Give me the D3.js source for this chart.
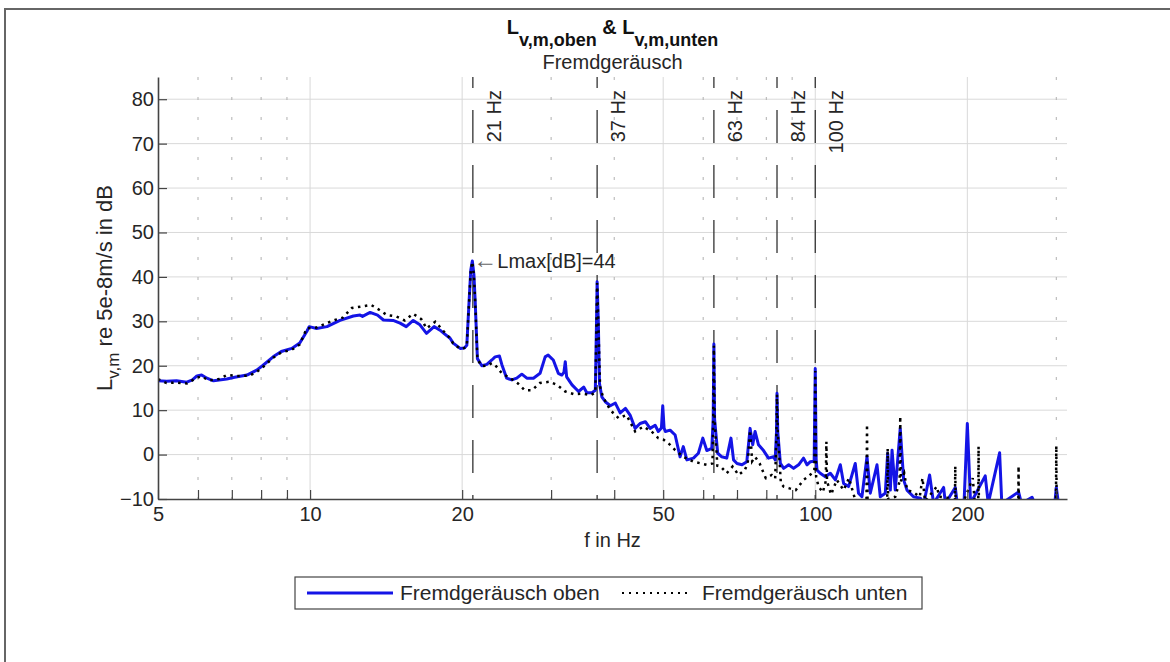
<!DOCTYPE html>
<html>
<head>
<meta charset="utf-8">
<script src="https://cdn.jsdelivr.net/npm/d3@7"></script>
<style>
  html, body { margin: 0; padding: 0; background: #fff; }
  svg { display: block; font-family: "Liberation Sans", Arial, Helvetica, sans-serif; }
</style>
</head>
<body>
<svg id="chart" width="1170" height="662"></svg>
<script>
// ---- data -------------------------------------------------------------
// Narrowband velocity level spectra (frequency in Hz, level in dB re 5e-8 m/s)
const oben = [
  [5.0,16.6],[5.2,16.5],[5.44,16.6],[5.7,16.3],[5.85,16.8],[5.97,17.7],[6.1,17.9],[6.25,17.2],
  [6.44,16.6],[6.84,17.0],[7.09,17.4],[7.5,17.9],[7.84,19.0],[8.05,20.0],[8.45,22.0],[8.77,23.2],
  [9.2,23.9],[9.54,25.1],[9.85,27.7],[9.96,28.8],[10.3,28.4],[10.8,28.8],[11.46,30.2],[12.18,31.2],
  [12.56,31.4],[12.7,31.1],[13.15,32.0],[13.6,31.4],[13.97,30.3],[14.6,30.2],[15.07,29.6],[15.5,28.8],
  [16.0,30.2],[16.5,29.2],[17.0,27.3],[17.6,28.8],[18.08,28.0],[18.4,27.3],[18.93,26.2],[19.2,25.1],
  [19.82,23.9],[20.2,24.0],[20.43,24.6],[20.6,32.6],[20.8,41.5],[20.95,43.6],[21.1,40.5],[21.22,34.8],
  [21.44,21.6],[21.88,20.0],[22.38,20.3],[22.9,21.3],[23.24,22.0],[23.7,22.2],[23.96,20.3],[24.5,17.2],
  [25.08,16.8],[25.65,17.2],[26.25,18.1],[26.86,17.2],[27.68,17.2],[28.53,18.3],[29.2,22.0],[29.6,22.4],
  [30.3,21.3],[31.0,18.3],[31.5,17.9],[31.8,18.5],[32.0,20.9],[32.2,17.5],[33.0,15.7],[34.0,14.2],
  [34.8,15.2],[35.3,13.9],[36.1,13.9],[36.7,14.5],[36.9,30.0],[37.0,38.9],[37.2,30.0],[37.4,16.0],
  [37.8,13.0],[38.4,11.9],[39.3,11.0],[40.2,11.6],[41.1,9.4],[42.1,10.4],[43.0,8.9],[44.0,5.9],
  [45.0,7.0],[46.1,7.4],[47.1,5.9],[48.2,6.6],[48.9,5.2],[49.6,6.0],[49.9,11.0],[50.2,6.0],
  [50.5,5.2],[51.6,5.5],[52.8,4.4],[54.0,-0.5],[54.8,1.8],[55.7,-1.2],[57.4,-0.8],[58.7,0.3],
  [59.9,3.7],[61.0,0.9],[62.4,1.4],[62.8,8.0],[63.0,24.9],[63.2,8.0],[64.1,0.3],[65.3,-0.5],
  [66.8,-0.8],[68.1,3.7],[68.9,-1.2],[70.0,-2.0],[71.6,-2.3],[73.2,-1.6],[74.3,5.9],[75.2,2.2],
  [76.0,5.2],[77.2,2.2],[79.0,0.9],[80.8,-0.8],[82.7,-0.5],[83.3,-1.2],[83.8,5.0],[84.0,13.8],
  [84.3,5.0],[85.3,-2.0],[86.6,-3.1],[88.6,-2.3],[90.6,-3.1],[92.7,-2.3],[94.8,-0.8],[96.3,-2.3],
  [97.8,-1.6],[99.5,-1.5],[100.0,19.4],[100.4,-1.0],[100.8,-3.5],[102.3,-4.2],[104.7,-5.0],[107.1,-4.2],
  [109.6,-5.7],[112.1,-2.3],[113.8,-6.5],[116.4,-7.2],[120.0,-2.0],[121.8,-8.7],[123.7,-9.5],[126.6,-0.5],
  [128.5,-8.7],[132.5,-2.3],[134.5,-9.5],[137.6,-8.7],[139.1,0.3],[140.8,-8.0],[141.9,1.0],[144.0,-8.0],
  [147.3,5.9],[149.6,-5.7],[151.9,-8.0],[156.5,-9.5],[161.4,-9.8],[164,-11],[168.4,-4.6],[171.5,-11],
  [179.5,-7.4],[181,-11],[189.3,-7.4],[191,-11],[197,-11],[200,7.0],[203,-11],[217,-4.8],
  [220,-11],[231.7,0.4],[234,-11],[252.6,-8.4],[256,-11],[268.6,-9.6],[272,-11],[298,-11],
  [300,-7.4],[303,-11],[315,-11]
];

const unten = [
  [5.0,17.0],[5.2,16.1],[5.44,16.2],[5.7,16.0],[5.97,17.3],[6.1,17.6],[6.3,16.7],[6.6,17.0],
  [6.84,17.9],[7.2,17.7],[7.6,17.8],[7.84,18.6],[8.05,19.6],[8.45,21.8],[8.77,23.0],[9.2,23.6],
  [9.54,24.8],[9.85,28.4],[10.3,28.6],[10.8,29.6],[11.2,30.3],[11.6,30.8],[12.1,33.0],[12.6,33.3],
  [13.2,33.7],[13.7,32.6],[14.2,31.4],[14.8,31.1],[15.4,30.2],[16.0,31.7],[16.6,30.5],[17.0,28.4],
  [17.7,29.9],[18.4,27.7],[18.93,26.2],[19.2,25.0],[19.82,23.8],[20.2,24.0],[20.43,24.5],[20.6,32.5],
  [20.8,41.3],[20.95,43.4],[21.1,40.3],[21.22,34.6],[21.44,21.4],[21.88,19.9],[22.4,20.0],[22.9,20.6],
  [23.24,20.2],[23.96,18.3],[24.9,17.2],[25.8,16.0],[26.6,14.5],[27.5,14.5],[28.5,16.1],[29.8,16.4],
  [30.8,15.7],[32.0,14.2],[33.3,13.6],[34.6,13.7],[36.0,13.4],[36.7,14.0],[36.9,30.0],[37.0,38.6],
  [37.2,30.0],[37.5,15.3],[38.0,13.0],[39.3,10.0],[40.8,8.2],[42.3,8.9],[44.0,5.2],[45.7,6.3],
  [47.4,5.2],[48.9,3.7],[50.0,3.4],[51.6,2.2],[52.8,1.0],[54.8,-0.5],[57.4,-1.6],[59.4,-2.0],
  [61.0,-2.3],[62.6,-2.0],[62.8,8.0],[63.0,24.5],[63.2,8.0],[64.0,-2.5],[65.0,-2.7],[66.8,-4.2],
  [68.6,-2.7],[70.5,-4.6],[72.5,-3.5],[73.5,-2.0],[74.3,5.5],[75.0,-1.5],[76.0,-0.5],[77.6,-2.0],
  [79.8,-5.3],[82.0,-4.6],[83.3,-5.4],[83.8,5.0],[84.0,13.5],[84.3,5.0],[85.5,-6.5],[86.6,-7.2],
  [88.9,-7.6],[91.5,-8.0],[94.8,-5.7],[96.7,-5.0],[98.5,-4.2],[99.6,-3.5],[100.0,18.8],[100.4,-5.0],
  [101.5,-7.2],[103.5,-8.5],[104.9,-6.0],[105.2,2.9],[105.5,-6.0],[107.5,-9.0],[110.3,-5.7],[113.8,-8.0],
  [116.6,-5.3],[119.5,-9.5],[121.0,-11],[126.3,-10.5],[126.6,6.8],[126.9,-10.5],[131,-11],[137,-10.5],
  [138.8,-10],[139.1,1.4],[139.4,-10],[144,-9.5],[146.9,-6.0],[147.3,8.6],[147.7,-6.0],[150,-4.2],
  [152,-8.0],[156.5,-8.5],[161,-9.5],[163,-5.3],[165,-10.5],[174,-7.2],[176,-9.5],[185,-9.8],
  [189,-11],[189.3,-2.6],[189.6,-11],[196,-11],[205,-5.3],[207,-11],[210.2,-11],[210.5,1.8],
  [210.8,-11],[220,-10.5],[235,-11],[252.3,-11],[252.6,-2.6],[252.9,-11],[280,-10.5],[299.5,-11],
  [300,2.0],[300.5,-11],[315,-11]
];

const seriesNames = ["Fremdgeräusch oben", "Fremdgeräusch unten"];
const markerFreqs = [21, 37, 63, 84, 100];
const xTicks = [5, 10, 20, 50, 100, 200];
const xMinorTicks = [6, 7, 8, 9, 30, 40, 60, 70, 80, 90, 300];
const yTicks = [-10, 0, 10, 20, 30, 40, 50, 60, 70, 80];

// ---- layout -----------------------------------------------------------
const svg = d3.select("#chart");
const plot = { left: 158, right: 1067, top: 77, bottom: 499 };
const blue = "#1414e6";
const ink = "#262626";

const x = d3.scaleLog().domain([5, 315]).range([plot.left, plot.right]);
const y = d3.scaleLinear().domain([-10, 85]).range([plot.bottom, plot.top]);

// figure frame (top and left edges)
svg.append("path")
  .attr("d", "M5,662 L5,9 L1170,9")
  .attr("fill", "none").attr("stroke", "#666").attr("stroke-width", 2);

// ---- grid -------------------------------------------------------------
const grid = svg.append("g");
grid.selectAll("line.h").data(yTicks.filter(v => v > -10)).join("line")
  .attr("class", "h")
  .attr("x1", plot.left).attr("x2", plot.right)
  .attr("y1", d => y(d)).attr("y2", d => y(d))
  .attr("stroke", "#d9d9d9").attr("stroke-width", 1);
grid.selectAll("line.vmaj").data(xTicks.filter(f => f > 5)).join("line")
  .attr("class", "vmaj")
  .attr("x1", d => x(d)).attr("x2", d => x(d))
  .attr("y1", plot.top).attr("y2", plot.bottom)
  .attr("stroke", "#d9d9d9").attr("stroke-width", 1);
grid.selectAll("line.vmin").data(xMinorTicks).join("line")
  .attr("class", "vmin")
  .attr("x1", d => x(d)).attr("x2", d => x(d))
  .attr("y1", plot.top).attr("y2", plot.bottom)
  .attr("stroke", "#b0b0b0").attr("stroke-width", 1)
  .attr("stroke-dasharray", "3,17");

// ---- frequency markers -------------------------------------------------
const markers = svg.append("g");
markers.selectAll("line").data(markerFreqs).join("line")
  .attr("x1", d => x(d)).attr("x2", d => x(d))
  .attr("y1", plot.top).attr("y2", plot.bottom)
  .attr("stroke", "#333").attr("stroke-width", 1.3)
  .attr("stroke-dasharray", "33,22").attr("stroke-dashoffset", 22);
markers.selectAll("text").data(markerFreqs).join("text")
  .attr("transform", d => `translate(${x(d) + 28},90) rotate(-90)`)
  .attr("text-anchor", "end")
  .attr("font-size", 20).attr("fill", ink)
  .text(d => `${d} Hz`);

// ---- spectra ----------------------------------------------------------
svg.append("clipPath").attr("id", "plot-clip").append("rect")
  .attr("x", plot.left).attr("y", plot.top)
  .attr("width", plot.right - plot.left).attr("height", plot.bottom - plot.top);

const line = d3.line().x(d => x(d[0])).y(d => y(d[1]));
const curves = svg.append("g").attr("clip-path", "url(#plot-clip)");
curves.append("path").datum(oben)
  .attr("d", line).attr("fill", "none")
  .attr("stroke", blue).attr("stroke-width", 3).attr("stroke-linejoin", "round");
curves.append("path").datum(unten)
  .attr("d", line).attr("fill", "none")
  .attr("stroke", "#000").attr("stroke-width", 2.5)
  .attr("stroke-dasharray", "2.5,4.5");

// ---- axes -------------------------------------------------------------
svg.append("g").attr("transform", `translate(0,${plot.bottom})`)
  .call(d3.axisBottom(x).tickValues(xTicks).tickFormat(d3.format("d"))
    .tickSizeInner(-9).tickSizeOuter(0).tickPadding(8));
svg.append("g").attr("transform", `translate(0,${plot.bottom})`)
  .call(d3.axisBottom(x).tickValues(xMinorTicks).tickFormat("")
    .tickSizeInner(-9).tickSizeOuter(0))
  .call(g => g.select(".domain").remove());
svg.append("g").attr("transform", `translate(${plot.left},0)`)
  .call(d3.axisLeft(y).tickValues(yTicks).tickFormat(d3.format("d"))
    .tickSizeInner(-9).tickSizeOuter(0).tickPadding(4));
svg.selectAll(".domain").attr("stroke", "#444").attr("stroke-width", 1.6);
svg.selectAll(".tick line").attr("stroke", "#444").attr("stroke-width", 1.2);
svg.selectAll(".tick text").attr("font-size", 20).attr("fill", ink)
  .attr("font-family", "\"Liberation Sans\", Arial, sans-serif");

// axis titles
svg.append("text")
  .attr("x", (plot.left + plot.right) / 2).attr("y", 547)
  .attr("text-anchor", "middle").attr("font-size", 20).attr("fill", ink)
  .text("f in Hz");

const yLab = svg.append("text")
  .attr("transform", `translate(112,${(plot.top + plot.bottom) / 2}) rotate(-90)`)
  .attr("text-anchor", "middle").attr("font-size", 22).attr("fill", ink);
yLab.append("tspan").text("L");
yLab.append("tspan").attr("font-size", 17).attr("dy", 7).text("v,m");
yLab.append("tspan").attr("dy", -7).text(" re 5e-8m/s in dB");

// ---- title ------------------------------------------------------------
const t1 = svg.append("text")
  .attr("x", (plot.left + plot.right) / 2).attr("y", 34)
  .attr("text-anchor", "middle").attr("font-size", 20)
  .attr("font-weight", "bold").attr("fill", "#111");
t1.append("tspan").text("L");
t1.append("tspan").attr("font-size", 18).attr("dy", 12).text("v,m,oben");
t1.append("tspan").attr("dy", -12).text(" & L");
t1.append("tspan").attr("font-size", 18).attr("dy", 12).text("v,m,unten");
svg.append("text")
  .attr("x", (plot.left + plot.right) / 2).attr("y", 69)
  .attr("text-anchor", "middle").attr("font-size", 20).attr("fill", ink)
  .text("Fremdgeräusch");

// ---- maximum annotation -----------------------------------------------
const peak = oben.reduce((a, b) => (b[1] > a[1] ? b : a));
const ann = svg.append("text")
  .attr("x", x(peak[0]) + 1).attr("y", y(peak[1]))
  .attr("dy", "0.35em").attr("font-size", 20).attr("fill", ink);
ann.append("tspan").attr("fill", "#666").attr("font-size", 24).text("←");
ann.append("tspan").text(`Lmax[dB]=${Math.round(peak[1])}`);

// ---- legend -----------------------------------------------------------
const lg = svg.append("g").attr("transform", "translate(295,577)");
lg.append("rect").attr("width", 627).attr("height", 32)
  .attr("fill", "#fff").attr("stroke", "#444").attr("stroke-width", 1.2);
lg.append("line").attr("x1", 12).attr("x2", 98).attr("y1", 16).attr("y2", 16)
  .attr("stroke", blue).attr("stroke-width", 3);
lg.append("text").attr("x", 105).attr("y", 23).attr("font-size", 21).attr("fill", ink)
  .text(seriesNames[0]);
lg.append("line").attr("x1", 327).attr("x2", 397).attr("y1", 16).attr("y2", 16)
  .attr("stroke", "#000").attr("stroke-width", 2)
  .attr("stroke-dasharray", "2,5");
lg.append("text").attr("x", 407).attr("y", 23).attr("font-size", 21).attr("fill", ink)
  .text(seriesNames[1]);
</script>
</body>
</html>
